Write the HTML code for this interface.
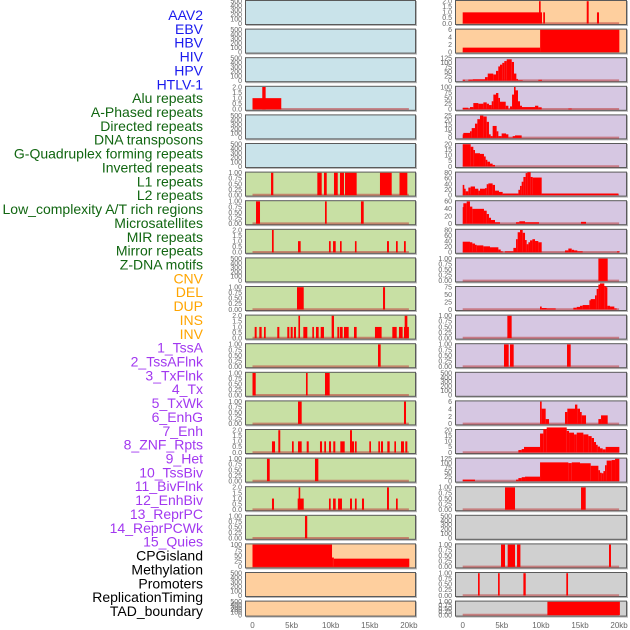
<!DOCTYPE html>
<html><head><meta charset="utf-8"><style>
html,body{margin:0;padding:0;background:#fff;width:630px;height:630px;overflow:hidden}
svg{display:block;font-family:"Liberation Sans",sans-serif}
</style></head><body>
<svg id="chart" width="630" height="630"></svg>
<script>
// ---------- data (kb positions, values) ----------
const labels = ["AAV2","EBV","HBV","HIV","HPV","HTLV-1","Alu repeats","A-Phased repeats","Directed repeats","DNA transposons","G-Quadruplex forming repeats","Inverted repeats","L1 repeats","L2 repeats","Low_complexity A/T rich regions","Microsatellites","MIR repeats","Mirror repeats","Z-DNA motifs","CNV","DEL","DUP","INS","INV","1_TssA","2_TssAFlnk","3_TxFlnk","4_Tx","5_TxWk","6_EnhG","7_Enh","8_ZNF_Rpts","9_Het","10_TssBiv","11_BivFlnk","12_EnhBiv","13_ReprPC","14_ReprPCWk","15_Quies","CPGisland","Methylation","Promoters","ReplicationTiming","TAD_boundary"];
const labelGroups = [6,13,5,15,5];
const xTicks = [0,5,10,15,20];
const xTickLabels = ["0","5kb","10kb","15kb","20kb"];
const ticksEmpty=[0,100,200,300,400,500], ticksFrac=[0,0.25,0.5,0.75,1], ticksTwo=[0,0.5,1,1.5,2];
const ticks25=[0,25,50,75,100], ticks125=[0,25,50,75,100,125], ticks6=[0,2,4,6], ticks20=[0,5,10,15,20], ticks25b=[0,5,10,15,20,25], ticks80=[0,20,40,60,80], ticks60=[0,20,40,60], ticks75=[0,25,50,75];
// left column
const L3 = [[0,3.68,1],[1.25,1.68,2]];
const L6 = [[2.37,2.66,1],[8.29,8.85,1],[9.14,9.49,1],[10.42,10.9,1],[11.19,11.7,1],[11.83,13.32,1],[16.3,17.8,1],[18.8,19.8,1]];
const L7 = [[0.45,0.96,1],[9.27,9.49,1],[13.87,14.22,1]];
const L8 = [[2.49,2.71,2],[5.82,6.16,1],[9.78,10.0,1],[10.3,10.64,1],[11.19,11.4,1],[13.1,13.3,1],[17.2,17.45,1],[18.35,18.57,1],[19.37,19.6,1]];
const L10 = [[5.69,6.55,1],[16.69,16.95,1]];
const L11 = [[0.28,0.53,1],[0.87,1.17,1],[1.47,1.69,1],[3.17,3.43,1],[4.45,4.71,1],[4.88,5.14,1],[5.3,5.56,1],[5.87,6.08,2],[6.5,7.01,1],[7.65,7.86,1],[8.12,8.46,1],[8.72,9.14,1],[10.12,10.42,2],[10.85,11.1,1],[11.19,11.53,1],[11.7,12.3,1],[12.98,13.32,1],[15.66,16.51,1],[17.88,18.44,1],[18.73,19.2,1],[19.37,20.0,1],[19.46,19.8,2]];
const L12 = [[16.05,16.39,1]];
const L13 = [[0,0.41,1],[6.84,7.05,1],[9.27,9.87,1]];
const L14 = [[5.82,6.29,1],[19.37,19.63,1]];
const L15 = [[2.49,2.88,1],[3.3,3.55,2],[5.05,5.27,1],[5.82,6.29,1],[6.93,7.19,1],[8.63,8.89,1],[9.18,9.4,1],[9.78,10.04,1],[10.33,10.59,1],[11.23,11.79,1],[12.47,12.72,2],[12.72,12.98,1],[13.1,13.32,1],[14.94,15.15,1],[16.09,16.3,1],[16.43,16.69,1],[17.24,17.54,1],[18.14,18.35,1],[18.99,19.37,1],[19.54,19.8,1]];
const L16 = [[1.85,2.2,1],[7.99,8.42,1]];
const L17 = [[2.49,2.75,1],[5.78,6.55,1],[5.9,6.08,2],[9.78,10.0,1],[10.3,10.64,1],[10.94,11.44,1],[12.47,12.72,1],[13.1,13.32,1],[14.0,14.26,1],[17.2,17.45,2],[18.35,18.57,1]];
const L18 = [[6.71,7.0,1]];
const L19 = [[0,10.17,100],[10.17,10.4,42],[10.4,20.05,37]];
// right column
const R0 = [[0,10.14,1],[9.76,9.97,2],[10.3,10.52,1],[15.86,16.11,2],[17.17,17.43,1]];
const R1 = [[0,9.9,1.2],[9.9,20.03,6]];
const R2 = [[0,0.29,5],[0.72,1.28,6],[1.28,2.85,8],[2.85,3.2,20],[3.2,3.91,40],[3.91,4.26,35],[4.26,4.55,55],[4.55,4.77,80],[4.77,5.06,90],[5.06,5.32,100],[5.32,5.63,110],[5.63,6.27,120],[6.27,6.56,105],[6.56,6.86,40],[6.86,7.03,10],[7.03,7.67,3],[9.67,10.14,5]];
const R3 = [[0,0.72,7],[0.72,0.93,3],[0.93,1.36,10],[1.36,2.0,28],[2.0,2.64,25],[2.64,3.07,31],[3.07,3.36,25],[3.36,3.71,19],[3.71,3.92,36],[3.92,4.26,66],[4.26,4.56,73],[4.56,4.77,51],[4.77,5.5,34],[5.5,5.84,16],[5.84,6.05,2],[6.05,6.31,13],[6.31,6.56,66],[6.56,6.73,100],[6.73,7.07,85],[7.07,7.33,36],[7.33,7.58,16],[7.58,9.25,10],[9.25,9.67,16],[9.67,10.1,9],[13.51,13.94,3]];
const R4 = [[0,0.08,4],[0.08,0.93,5.6],[0.93,1.15,7.4],[1.15,1.57,11],[1.57,1.87,16],[1.87,2.21,21],[2.21,2.64,25],[2.64,3.07,24],[3.07,3.36,18],[3.36,3.58,4],[3.58,3.83,2],[3.83,4.34,13.4],[4.34,4.56,7.4],[4.56,4.98,2],[4.98,5.54,5],[5.54,5.84,4],[5.84,6.39,0.4],[6.39,6.69,2],[6.69,7.54,2.8]];
const R5 = [[0,1.02,20],[1.02,1.36,17.7],[1.36,1.57,14.8],[1.57,2.21,11.9],[2.21,2.72,11.3],[2.72,2.94,9],[2.94,3.15,6],[3.15,3.49,4.3],[3.49,3.83,2.6],[3.83,4.13,1.4]];
const R6 = [[0,0.08,36.6],[0.08,0.38,22.9],[0.38,0.72,13.7],[0.72,1.02,27],[1.02,1.57,30.9],[1.57,2.0,22.9],[2.0,2.21,16],[2.21,2.85,22.9],[2.85,3.07,25],[3.07,3.28,39],[3.28,3.83,42],[3.83,4.13,36.6],[4.13,4.64,16],[4.64,5.11,11.4],[5.11,7.12,5.7],[7.12,7.33,19],[7.33,7.54,33],[7.54,7.76,48],[7.76,8.05,65],[8.05,8.27,79],[8.27,8.69,82],[8.69,8.95,65],[8.95,10.1,63],[10.1,19.9,5.7]];
const R7 = [[0,0.08,44.6],[0.08,0.51,55],[0.51,0.93,60],[0.93,1.23,46],[1.23,2.72,40],[2.72,3.07,35],[3.07,3.36,26],[3.36,3.62,16],[3.62,4.13,10],[4.13,4.77,4],[6.82,7.24,4],[7.24,7.97,6.5],[7.97,9.76,4],[15.13,15.77,5]];
const R8 = [[0,0.93,38],[0.93,1.23,36],[1.23,1.57,31.5],[1.57,1.79,27],[1.79,2.64,24.8],[2.64,3.49,21.4],[3.49,4.56,18],[4.56,4.86,10],[4.86,5.11,3.4],[5.41,6.48,3.4],[6.48,6.82,15.8],[6.82,7.03,47],[7.03,7.33,72],[7.33,7.67,80],[7.67,7.97,70],[7.97,8.18,44],[8.18,8.4,29],[8.4,8.61,36],[8.61,8.91,42.8],[8.91,9.25,47],[9.25,9.67,40.5],[9.67,10.1,36],[13.08,13.51,6.8],[13.51,13.94,13.5],[13.94,14.24,9],[14.24,14.66,6.8],[14.66,15.34,3.4],[19.73,20.08,3.4]];
const R9 = [[17.35,18.54,1]];
const R10 = [[9.89,10.1,10],[10.1,10.74,5],[10.74,11.89,3.75],[14.15,14.58,6],[14.58,15.0,8.75],[15.0,15.34,12.5],[15.34,16.2,15],[16.2,16.37,31],[16.37,16.92,35],[16.92,17.13,47.5],[17.13,17.35,69],[17.35,17.56,84],[17.56,18.11,87.5],[18.11,18.28,79],[18.28,18.5,75],[18.5,18.84,12.5],[18.84,19.39,10],[19.39,19.69,3.75]];
const R11 = [[5.71,6.26,1]];
const R12 = [[5.28,5.88,1],[6.05,6.52,1],[13.34,13.81,1]];
const R14 = [[9.89,10.1,6],[10.1,10.61,4.1],[10.61,11.04,1.3],[13.08,13.38,3.2],[13.38,14.36,4.1],[14.36,14.66,5.2],[14.66,15.0,4.1],[15.0,15.22,3.2],[15.22,15.77,2.3],[17.35,17.69,1.3],[17.69,18.54,2.3]];
const R15 = [[7.12,7.54,2.2],[7.54,7.84,3.1],[7.84,9.89,5],[9.89,10.31,17],[10.31,10.74,21],[10.74,13.3,22.5],[13.3,13.6,19.4],[13.6,14.24,17.8],[14.24,14.58,16.2],[14.58,15.43,17.8],[15.43,16.07,16.2],[16.07,16.49,14.7],[16.49,16.79,13],[16.79,17.05,9.4],[17.05,17.26,6.9],[17.26,17.56,5.3],[17.56,17.9,3.75],[17.9,18.28,2.8],[18.28,20.03,5]];
const R16 = [[0,1.57,8.4],[6.82,7.12,8.4],[7.12,7.54,17],[7.54,7.97,22],[7.97,9.89,25],[9.89,13.51,105],[13.51,13.94,101],[13.94,15.0,105],[15.0,16.37,100],[16.37,17.35,86],[17.35,17.56,61],[17.56,17.77,47],[17.77,17.99,44],[17.99,18.2,56],[18.2,18.41,89],[18.41,19.05,115],[19.05,19.48,118],[19.48,20.03,125]];
const R17 = [[5.41,6.69,1],[15.13,15.73,1]];
const R19 = [[4.9,5.41,1],[5.75,6.69,1],[6.95,7.38,1],[18.71,18.96,1]];
const R20 = [[1.96,2.17,1],[4.52,4.73,1],[7.76,8.06,1],[13.25,13.47,1]];
const R21 = [[10.83,20.1,1]];

const leftTracks = [
 [null,ticksEmpty],[null,ticksEmpty],[null,ticksEmpty],[L3,ticksTwo],[null,ticksEmpty],[null,ticksEmpty],
 [L6,ticksFrac],[L7,ticksFrac],[L8,ticksTwo],[null,ticksEmpty],[L10,ticksFrac],[L11,ticksTwo],[L12,ticksFrac],
 [L13,ticksFrac],[L14,ticksFrac],[L15,ticksTwo],[L16,ticksFrac],[L17,ticksTwo],[L18,ticksFrac],
 [L19,ticks25],[null,ticksEmpty],[null,ticksEmpty]];
const rightTracks = [
 [R0,ticksTwo],[R1,ticks6],[R2,ticks125],[R3,ticks25],[R4,ticks25b],[R5,ticks20],[R6,ticks80],[R7,ticks60],[R8,ticks80],
 [R9,ticksFrac],[R10,ticks75],[R11,ticksFrac],[R12,ticksFrac],[null,ticksEmpty],[R14,ticks6],[R15,ticks20],[R16,ticks125],
 [R17,ticksFrac],[null,ticksEmpty],[R19,ticksFrac],[R20,ticksFrac],[R21,ticksFrac]];

// ---------- rendering ----------
const NS="http://www.w3.org/2000/svg";
const svg=document.getElementById('chart');
function mk(tag,attrs,parent){const e=document.createElementNS(NS,tag);for(const k in attrs)e.setAttribute(k,attrs[k]);(parent||svg).appendChild(e);return e;}
const labelColors=["#1a1aee","#116611","#ffa500","#a238f0","#000000"];
let li=0;
labelGroups.forEach((n,g)=>{for(let k=0;k<n;k++){
  const t=mk('text',{x:203,y:20+li*13.86,'text-anchor':'end','font-size':'14',fill:labelColors[g]});
  
  
  t.textContent=labels[li];li++;}});

const cols=[{tracks:leftTracks,bx:245,bw:171,x0:252.5,side:'left',
  bg:i=>i<6?'#c9e3ea':(i<19?'#c8e0a4':'#fecf9e')},
 {tracks:rightTracks,bx:455,bw:172,x0:462.7,side:'right',
  bg:i=>i<2?'#fecf9e':(i<17?'#d6c7e2':'#d0d0d0')}];
const kbpx=7.82;
cols.forEach(c=>{
  const xs=kb=>c.x0+kb*kbpx;
  c.tracks.forEach((tr,i)=>{
    const segs=tr[0],tk=tr[1];
    const top=i*28.6, h=(i===21?16:25);
    const g=mk('g',{});
    
    
    mk('rect',{x:c.bx+1,y:top+1,width:c.bw,height:h,fill:'#b8b8b8'},g);
    mk('rect',{x:c.bx+0.5,y:top+0.5,width:c.bw-1,height:h-1,fill:c.bg(i),stroke:'#5a5a5a','stroke-width':1},g);
    const ymax=tk[tk.length-1];
    const yb=top+h-1.5, yt=top+1.2;
    const ys=v=>yb-(v/ymax)*(yb-yt);
    tk.forEach(v=>{
      const t=mk('text',{x:c.bx-3,y:ys(v)+2.3,'text-anchor':'end','font-size':'7',fill:'#666'},g);
      
      
      t.textContent= tk===ticksFrac? v.toFixed(2) : (tk===ticksTwo? v.toFixed(1) : String(v));
    });
    if(segs){
      mk('line',{x1:xs(0),x2:xs(20),y1:yb-0.3,y2:yb-0.3,stroke:'rgba(190,60,60,0.55)','stroke-width':2},g);
      segs.forEach(s=>{
        const x1=xs(s[0]),x2=xs(s[1]);
        const r=mk('rect',{x:x1,y:ys(s[2]),width:Math.max(1.6,x2-x1),height:yb-ys(s[2]),fill:'#ff0000'},g);
        
        
      });
    }
  });
  xTicks.forEach((v,k)=>{
    const t=mk('text',{x:xs(v),y:628,'text-anchor':'middle','font-size':'8',fill:'#666'});
    
    
    t.textContent=xTickLabels[k];
  });
});
</script>
</body></html>
